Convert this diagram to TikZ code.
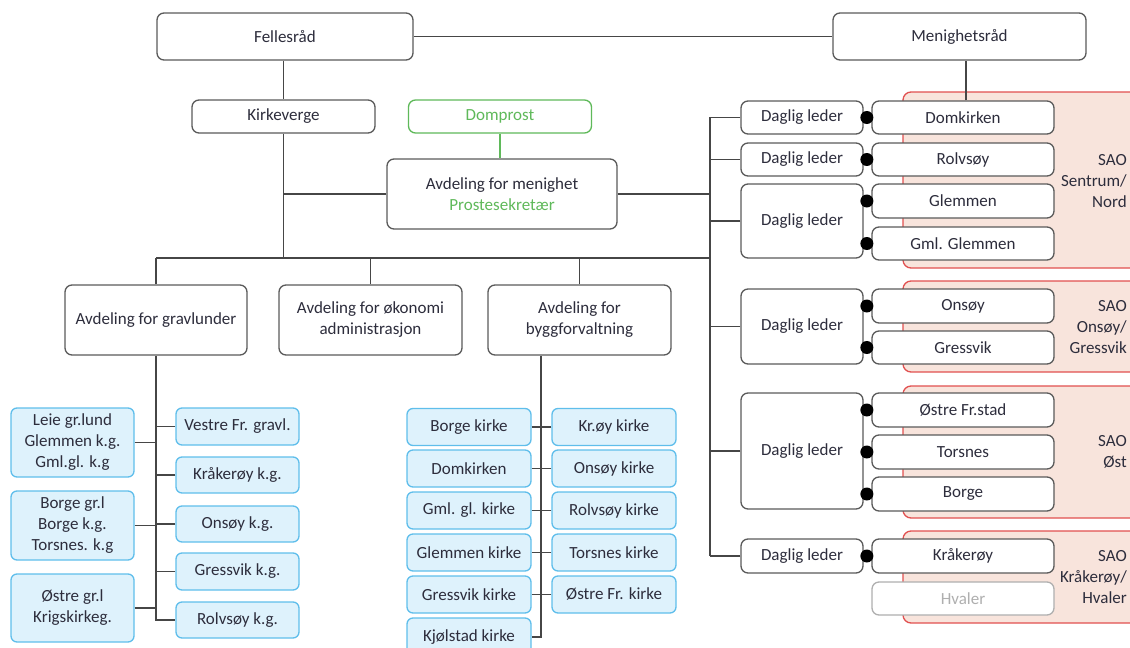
\documentclass[tikz,border=0pt]{standalone}
\usepackage{fontspec}
\setmainfont{Carlito}
\definecolor{txt}{RGB}{45,45,60}
\definecolor{lin}{RGB}{70,70,70}
\definecolor{gbord}{RGB}{90,90,90}
\definecolor{grn}{RGB}{95,185,90}
\definecolor{bfill}{RGB}{222,242,252}
\definecolor{bbord}{RGB}{95,190,235}
\definecolor{rfill}{RGB}{248,228,220}
\definecolor{rbord}{RGB}{225,80,80}
\definecolor{hgray}{RGB}{175,175,175}
\begin{document}
\begin{tikzpicture}[x=1pt,y=-1pt,
  every node/.style={font=\fontsize{17}{21}\selectfont, text=txt, inner sep=0pt, align=center},
  box/.style={draw=gbord, fill=white, line width=1.3pt, rounded corners=7pt},
  gbox/.style={draw=grn, fill=white, line width=1.3pt, rounded corners=7pt, text=grn},
  hbox/.style={draw=hgray, fill=white, line width=1.3pt, rounded corners=7pt, text=hgray},
  bbox/.style={draw=bbord, fill=bfill, line width=1.3pt, rounded corners=6pt},
  region/.style={draw=rbord, fill=rfill, line width=1.3pt, rounded corners=8pt},
  conn/.style={draw=lin, line width=1.3pt},
  saotext/.style={anchor=east, align=right},
  dot/.style={fill=black}
]
\useasboundingbox (0,0) rectangle (1130,648);
\clip (0,0) rectangle (1130,648);

% red regions
\path[region] (903,92) rectangle (1150,268);
\path[region] (903,281) rectangle (1150,372);
\path[region] (903,386) rectangle (1150,518);
\path[region] (903,531) rectangle (1150,623);
\node[saotext] (s1) at (1127,181) {SAO\\Sentrum/\\Nord};
\node[saotext] (s2) at (1127,327) {SAO\\Onsøy/\\Gressvik};
\node[saotext] (s3) at (1127,452) {SAO\\Øst};
\node[saotext] (s4) at (1127,577) {SAO\\Kråkerøy/\\Hvaler};

% top level
\node[box, minimum width=256, minimum height=47] (fell) at (285,36.5) {Fellesråd};
\node[box, minimum width=253, minimum height=47] (menr) at (959.5,36.5) {Menighetsråd};
\node[box, minimum width=183, minimum height=33] (kirk) at (283.5,116.5) {Kirkeverge};
\node[gbox, minimum width=183, minimum height=33] (domp) at (500,116.5) {Domprost};
\node[box, minimum width=230, minimum height=70] (amen) at (502,194) {Avdeling for menighet\\\textcolor{grn}{Prostesekretær}};
\node[box, minimum width=182, minimum height=70] (agrav) at (156,320) {Avdeling for gravlunder};
\node[box, minimum width=183, minimum height=70] (aoko) at (370.5,320) {Avdeling for økonomi\\administrasjon};
\node[box, minimum width=183, minimum height=70] (abyg) at (579.5,320) {Avdeling for\\byggforvaltning};

\coordinate (busL) at (156,258);
\coordinate (busR) at (710,258);
\coordinate (vtop) at (710,117);
\coordinate (vbot) at (710,556);
\coordinate (bx) at (541,0);

\draw[conn] (fell.east) -- (menr.west);
\draw[conn] (kirk.north |- fell.south) -- (kirk.north);
\draw[conn] (kirk.south) -- (kirk.south |- busL);
\draw[conn] (amen.west) -- (amen.west -| kirk.south);
\draw[conn] (amen.east) -- (amen.east -| busR);
\draw[draw=grn, line width=1.3pt] (domp.south) -- (domp.south |- amen.north);
\draw[conn] (busL) -- (busR);
\draw[conn] (agrav.north) -- (agrav.north |- busL);
\draw[conn] (aoko.north) -- (aoko.north |- busL);
\draw[conn] (abyg.north) -- (abyg.north |- busL);
\draw[conn] (vtop) -- (vbot);

% Daglig leder boxes
\node[box, minimum width=122, minimum height=33] (d1) at (802,117.5) {Daglig leder};
\node[box, minimum width=122, minimum height=33] (d2) at (802,159.5) {Daglig leder};
\node[box, minimum width=122, minimum height=74] (d3) at (802,221) {Daglig leder};
\node[box, minimum width=122, minimum height=75] (d4) at (802,326.5) {Daglig leder};
\node[box, minimum width=122, minimum height=116] (d5) at (802,451) {Daglig leder};
\node[box, minimum width=122, minimum height=34] (d6) at (802,556) {Daglig leder};
\foreach \d in {d1,d2,d3,d4,d5,d6} {\draw[conn] (\d.west) -- (\d.west -| vtop);}

% parish boxes
\node[box, minimum width=182, minimum height=33] (r1) at (963,117.5) {Domkirken};
\node[box, minimum width=182, minimum height=33] (r2) at (963,159.5) {Rolvsøy};
\node[box, minimum width=182, minimum height=34] (r3) at (963,201) {Glemmen};
\node[box, minimum width=182, minimum height=33] (r4) at (963,243.5) {Gml. Glemmen};
\node[box, minimum width=182, minimum height=34] (r5) at (963,306) {Onsøy};
\node[box, minimum width=182, minimum height=33] (r6) at (963,347.5) {Gressvik};
\node[box, minimum width=182, minimum height=34] (r7) at (963,410) {Østre Fr.stad};
\node[box, minimum width=182, minimum height=34] (r8) at (963,452) {Torsnes};
\node[box, minimum width=182, minimum height=34] (r9) at (963,494) {Borge};
\node[box, minimum width=182, minimum height=34] (r10) at (963,556) {Kråkerøy};
\node[hbox, minimum width=182, minimum height=33] (r11) at (963,598.5) {Hvaler};
\draw[conn] ([xshift=3pt]r1.north) -- ([xshift=3pt]r1.north |- menr.south);
\foreach \r in {r1,r2,r3,r4,r5,r6,r7,r8,r9,r10} {\fill[dot] ([xshift=-4.5pt]\r.west) circle (6.5pt);}

% cemetery boxes
\node[bbox, minimum width=123, minimum height=69] (l1) at (72.5,442.5) {Leie gr.lund\\Glemmen k.g.\\Gml.gl. k.g};
\node[bbox, minimum width=123, minimum height=69] (l2) at (72.5,525.5) {Borge gr.l\\Borge k.g.\\Torsnes. k.g};
\node[bbox, minimum width=123, minimum height=68] (l3) at (72.5,608) {Østre gr.l\\Krigskirkeg.};
\node[bbox, minimum width=123, minimum height=37] (v1) at (237.5,426.5) {Vestre Fr. gravl.};
\node[bbox, minimum width=123, minimum height=36] (v2) at (237.5,475) {Kråkerøy k.g.};
\node[bbox, minimum width=123, minimum height=36] (v3) at (237.5,524) {Onsøy k.g.};
\node[bbox, minimum width=123, minimum height=37] (v4) at (237.5,571.5) {Gressvik k.g.};
\node[bbox, minimum width=123, minimum height=36] (v5) at (237.5,620) {Rolvsøy k.g.};
\draw[conn] (agrav.south) -- (agrav.south |- v5.west) -- (v5.west);
\foreach \n in {l1,l2,l3} {\draw[conn] (\n.east) -- (\n.east -| agrav.south);}
\foreach \n in {v1,v2,v3,v4} {\draw[conn] (\n.west) -- (\n.west -| agrav.south);}

% church boxes
\node[bbox, minimum width=124, minimum height=37] (c1) at (469,427) {Borge kirke};
\node[bbox, minimum width=124, minimum height=37] (c2) at (469,468.5) {Domkirken};
\node[bbox, minimum width=124, minimum height=37] (c3) at (469,510.5) {Gml. gl. kirke};
\node[bbox, minimum width=124, minimum height=37] (c4) at (469,552.5) {Glemmen kirke};
\node[bbox, minimum width=124, minimum height=37] (c5) at (469,594.5) {Gressvik kirke};
\node[bbox, minimum width=124, minimum height=38] (c6) at (469,637) {Kjølstad kirke};
\node[bbox, minimum width=124, minimum height=37] (k1) at (614,427) {Kr.øy kirke};
\node[bbox, minimum width=124, minimum height=37] (k2) at (614,468.5) {Onsøy kirke};
\node[bbox, minimum width=124, minimum height=37] (k3) at (614,510.5) {Rolvsøy kirke};
\node[bbox, minimum width=124, minimum height=37] (k4) at (614,552.5) {Torsnes kirke};
\node[bbox, minimum width=124, minimum height=37] (k5) at (614,594.5) {Østre Fr. kirke};
\draw[conn] (abyg.south -| bx) -- (c6.east -| bx) -- (c6.east);
\foreach \n in {c1,c2,c3,c4,c5} {\draw[conn] (\n.east) -- (\n.east -| bx);}
\foreach \n in {k1,k2,k3,k4,k5} {\draw[conn] (\n.west) -- (\n.west -| bx);}
\end{tikzpicture}
\end{document}
